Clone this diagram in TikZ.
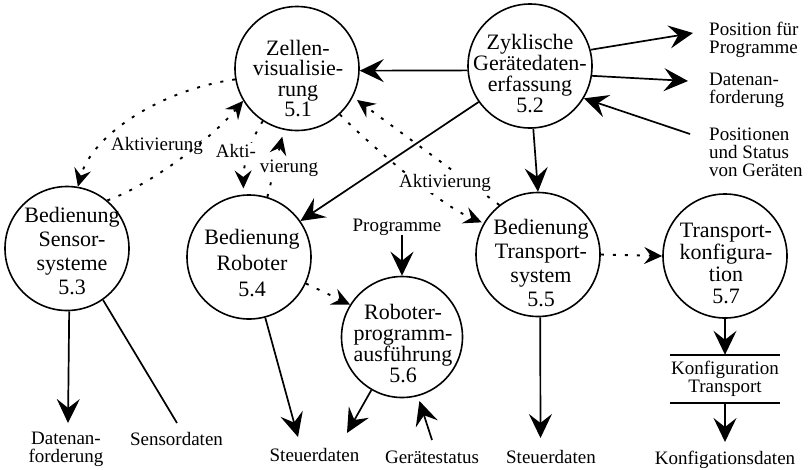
\documentclass[tikz,border=0pt]{standalone}
\usepackage{fontspec}
\setmainfont{Liberation Serif}
\usetikzlibrary{arrows.meta}
\begin{document}
\begin{tikzpicture}[x=1pt,y=-1pt,
  proc/.style={circle,draw,line width=1.6pt,minimum size=124pt,inner sep=0pt},
  ptext/.style={align=center,inner sep=0pt,font=\fontsize{22}{#1}\selectfont},
  lbl/.style={align=center,inner sep=0pt,font=\fontsize{19}{18}\selectfont},
  rlbl/.style={lbl,align=left,anchor=west},
  blbl/.style={lbl,anchor=base},
  wlbl/.style={lbl,fill=white,inner sep=1pt},
  plain/.style={line width=1.7pt},
  flow/.style={plain,-{Stealth[length=24pt,width=23pt,inset=9pt]}},
  ctrl/.style={line width=1.9pt,dash pattern=on 3pt off 9pt,
               -{Stealth[length=18pt,width=17pt,inset=6.5pt]}},
]
\useasboundingbox (0,0) rectangle (810,469);

% processes
\node[proc] (c51) at (297,68.5) {};
\node[proc] (c52) at (530,66) {};
\node[proc] (c53) at (67,248.5) {};
\node[proc] (c54) at (249,257) {};
\node[proc] (c55) at (538,254.5) {};
\node[proc,minimum size=121pt] (c56) at (402,337) {};
\node[proc] (c57) at (725,256) {};

\node[ptext=20.5] (t51) at (298,78.5) {Zellen-\\visualisie-\\rung\\5.1};
\node[ptext=21] (t52) at (530,74) {Zyklische\\Gerätedaten-\\erfassung\\5.2};
\node[ptext=24] (t53) at (72,251) {Bedienung\\Sensor-\\systeme\\5.3};
\node[ptext=26] (t54) at (252,263.5) {Bedienung\\Roboter\\5.4};
\node[ptext=24] (t55) at (541,263.5) {Bedienung\\Transport-\\system\\5.5};
\node[ptext=21] (t56) at (403,344) {Roboter-\\programm-\\ausführung\\5.6};
\node[ptext=22] (t57) at (726,263) {Transport-\\konfigura-\\tion\\5.7};

% data store
\node[lbl,minimum width=110pt,minimum height=48pt] (kt) at (725,379) {Konfiguration\\Transport};
\draw[plain] (kt.north west) -- (kt.north east);
\draw[plain] (kt.south west) -- (kt.south east);

\node[lbl] (lprog) at (397,227) {Programme};

% free ends of the external flows
\coordinate (ePos) at (693,33);
\coordinate (eReq) at (688,81);
\coordinate (sStat) at (690,134);
\coordinate (eReq2) at (68,423);
\coordinate (eSens) at (177,423);
\coordinate (eCtl1) at (298,437);
\coordinate (eCtl1b) at (347,433);
\coordinate (sGst) at (432,440);
\coordinate (eCtl2) at (540.5,438);
\coordinate (eKonf) at (725,442);

% data flows
\draw[flow] (c52.15) -- (ePos);
\draw[flow] (c52.351) -- (eReq);
\draw[flow] (sStat) -- (c52.329);
\draw[flow] (c52.184) -- (c51.358);
\draw[flow] (c52.215) -- (c54.35);
\draw[flow] (c52.273) -- (c55.90);
\draw[flow] (lprog.south -| c56.north) -- (c56.north);
\draw[flow] (c53.272) -- (eReq2);
\draw[plain] (c53.305) -- (eSens);
\draw[flow] (c54.285) -- (eCtl1);
\draw[flow] (c56.240) -- (eCtl1b);
\draw[flow,shorten >=5pt] (sGst) -- (c56.285);
\draw[flow] (c55.272) -- (eCtl2);
\draw[flow] (c57.south) -- (kt.north);
\draw[flow] (kt.south) -- (eKonf);

% control flows
\draw[ctrl] (c51.190) .. controls (160,90) and (92,135) .. (c53.80);
\draw[ctrl] (c53.50) .. controls (150,185) and (210,140) .. (c51.211);
\draw[ctrl,shorten >=6pt] (c51.237) .. controls (252,137) and (243,165) .. (c54.95);
\draw[ctrl,shorten >=7pt] (c54.73) -- (c51.258);
\draw[ctrl,shorten >=2pt] (c51.313) .. controls (370,145) and (440,205) .. (c55.150);
\draw[ctrl,shorten >=5pt] (c55.128) -- (c51.333);
\draw[ctrl] (c54.335) -- (c56.148);
\draw[ctrl] (c55.east) -- (c57.west);

% labels
\node[lbl] (lakt1) at (157,145.5) {Aktivierung};
\node[wlbl] (lakt2) at (236,150.5) {Akti-};
\node[wlbl] (lakt3) at (289,168.5) {vierung};
\node[wlbl] (lakt4) at (445,183) {Aktivierung};
\node[rlbl] (lpos) at (709,39.5) {Position für\\Programme};
\node[rlbl] (lreq) at (709,90) {Datenan-\\forderung};
\node[rlbl] (lstat) at (709,152.5) {Positionen\\und Status\\von Geräten};
\node[lbl] (lreq2) at (66,449.5) {Datenan-\\forderung};
\node[blbl] (lsens) at (176.5,445) {Sensordaten};
\node[blbl] (lctl1) at (314.5,461) {Steuerdaten};
\node[blbl] (lgst) at (432,463) {Gerätestatus};
\node[blbl] (lctl2) at (551,463) {Steuerdaten};
\node[blbl] (lkonf) at (725,464) {Konfigationsdaten};
\end{tikzpicture}
\end{document}
